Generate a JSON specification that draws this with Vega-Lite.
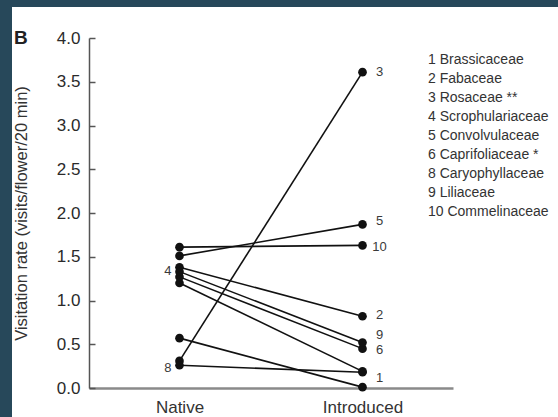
{
  "$schema": "https://vega.github.io/schema/vega-lite/v6.json",
  "width": 546,
  "height": 410,
  "autosize": {"type": "none"},
  "padding": {"left": 12, "top": 7, "right": 0, "bottom": 0},
  "background": "#27485a",
  "config": {
    "view": {"fill": "white", "stroke": null},
    "font": "Liberation Sans"
  },
  "title": {
    "text": "B",
    "anchor": "start",
    "frame": "group",
    "orient": "top",
    "baseline": "top",
    "offset": -41,
    "dx": 2,
    "fontSize": 19,
    "fontWeight": "bold",
    "color": "#222",
    "font": "Liberation Sans"
  },
  "datasets": {
    "pts": [
      {"family": "1 Brassicaceae", "origin": "Native", "rate": 0.57},
      {"family": "1 Brassicaceae", "origin": "Introduced", "rate": 0.01},
      {"family": "2 Fabaceae", "origin": "Native", "rate": 1.38},
      {"family": "2 Fabaceae", "origin": "Introduced", "rate": 0.82},
      {"family": "3 Rosaceae **", "origin": "Native", "rate": 0.31},
      {"family": "3 Rosaceae **", "origin": "Introduced", "rate": 3.61},
      {"family": "4 Scrophulariaceae", "origin": "Native", "rate": 1.2},
      {"family": "4 Scrophulariaceae", "origin": "Introduced", "rate": 0.19},
      {"family": "5 Convolvulaceae", "origin": "Native", "rate": 1.51},
      {"family": "5 Convolvulaceae", "origin": "Introduced", "rate": 1.87},
      {"family": "6 Caprifoliaceae *", "origin": "Native", "rate": 1.27},
      {"family": "6 Caprifoliaceae *", "origin": "Introduced", "rate": 0.45},
      {"family": "8 Caryophyllaceae", "origin": "Native", "rate": 0.26},
      {"family": "8 Caryophyllaceae", "origin": "Introduced", "rate": 0.18},
      {"family": "9 Liliaceae", "origin": "Native", "rate": 1.33},
      {"family": "9 Liliaceae", "origin": "Introduced", "rate": 0.52},
      {"family": "10 Commelinaceae", "origin": "Native", "rate": 1.61},
      {"family": "10 Commelinaceae", "origin": "Introduced", "rate": 1.63}
    ],
    "labels": [
      {"label": "3", "origin": "Introduced", "rate": 3.615},
      {"label": "5", "origin": "Introduced", "rate": 1.91},
      {"label": "10", "origin": "Introduced", "rate": 1.615},
      {"label": "2", "origin": "Introduced", "rate": 0.84},
      {"label": "9", "origin": "Introduced", "rate": 0.61},
      {"label": "6", "origin": "Introduced", "rate": 0.434},
      {"label": "1", "origin": "Introduced", "rate": 0.11},
      {"label": "4", "origin": "Native", "rate": 1.34},
      {"label": "8", "origin": "Native", "rate": 0.225}
    ]
  },
  "encoding": {
    "x": {
      "field": "origin",
      "type": "nominal",
      "sort": ["Native", "Introduced"],
      "scale": {"type": "point", "domain": ["Native", "Introduced"], "range": [77, 441], "padding": 0.4945},
      "axis": {
        "title": null,
        "orient": "bottom",
        "offset": -29,
        "ticks": false,
        "domainColor": "#8a8a8a",
        "domainWidth": 2.5,
        "labelFontSize": 17,
        "labelColor": "#333",
        "labelPadding": 11,
        "labelAngle": 0,
        "labelFont": "Liberation Sans"
      }
    },
    "y": {
      "field": "rate",
      "type": "quantitative",
      "scale": {"domain": [0, 4], "range": [381, 31], "nice": false, "zero": false},
      "axis": {
        "title": "Visitation rate (visits/flower/20 min)",
        "orient": "left",
        "offset": -77,
        "values": [0, 0.5, 1, 1.5, 2, 2.5, 3, 3.5, 4],
        "format": ".1f",
        "grid": false,
        "domainColor": "#555",
        "domainWidth": 1.5,
        "tickColor": "#555",
        "tickWidth": 1.5,
        "tickSize": -6,
        "labelPadding": 15,
        "labelFontSize": 17,
        "labelColor": "#2a2a2a",
        "labelFont": "Liberation Sans",
        "titleFont": "Liberation Sans",
        "titleFontSize": 16.5,
        "titleFontWeight": "normal",
        "titleColor": "#333",
        "titleX": -68,
        "titleY": 206,
        "titleBaseline": "middle"
      }
    }
  },
  "layer": [
    {
      "data": {"name": "pts"},
      "mark": {"type": "line", "strokeWidth": 1.6},
      "encoding": {
        "detail": {"field": "family"},
        "color": {
          "field": "family",
          "type": "nominal",
          "scale": {
            "domain": ["1 Brassicaceae", "2 Fabaceae", "3 Rosaceae **", "4 Scrophulariaceae", "5 Convolvulaceae", "6 Caprifoliaceae *", "8 Caryophyllaceae", "9 Liliaceae", "10 Commelinaceae"],
            "range": ["#111", "#111", "#111", "#111", "#111", "#111", "#111", "#111", "#111"]
          },
          "legend": {
            "title": null,
            "orient": "none",
            "legendX": 402,
            "legendY": 46,
            "symbolSize": 0,
            "symbolOpacity": 0,
            "symbolStrokeWidth": 0,
            "labelOffset": 0,
            "labelFontSize": 14,
            "labelColor": "#333",
            "labelFont": "Liberation Sans",
            "labelLimit": 200,
            "rowPadding": 5,
            "padding": 0
          }
        }
      }
    },
    {
      "data": {"name": "pts"},
      "mark": {"type": "point", "filled": true, "size": 75, "color": "#111", "opacity": 1}
    },
    {
      "data": {"name": "labels"},
      "transform": [{"filter": "datum.origin == 'Introduced'"}],
      "mark": {"type": "text", "align": "center", "baseline": "middle", "dx": 17, "fontSize": 13, "color": "#3a3a3a", "font": "Liberation Sans"},
      "encoding": {"text": {"field": "label"}}
    },
    {
      "data": {"name": "labels"},
      "transform": [{"filter": "datum.origin == 'Native'"}],
      "mark": {"type": "text", "align": "right", "baseline": "middle", "dx": -8, "fontSize": 13, "color": "#3a3a3a", "font": "Liberation Sans"},
      "encoding": {"text": {"field": "label"}}
    }
  ]
}
